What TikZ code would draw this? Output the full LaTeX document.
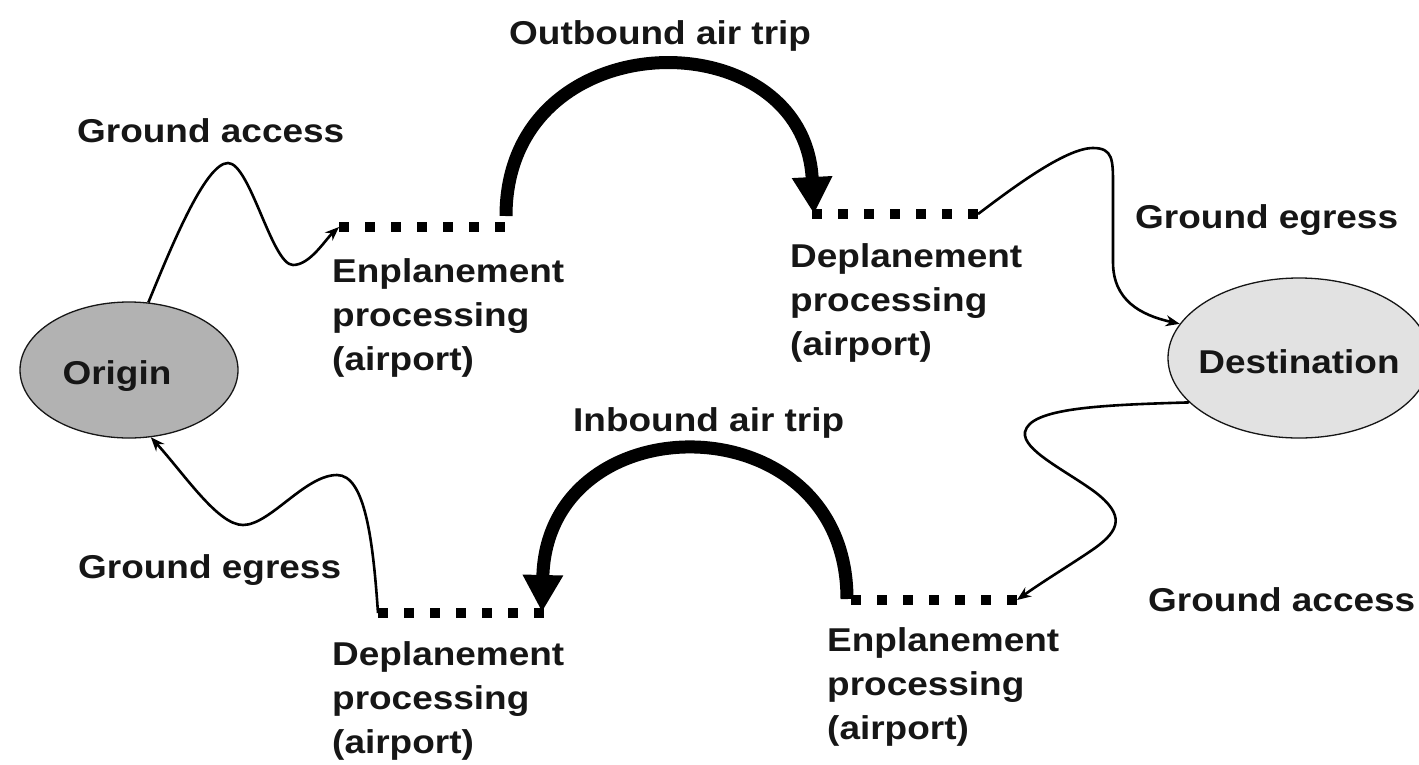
\documentclass[tikz,border=0pt]{standalone}
\usepackage{fontspec}
\usetikzlibrary{arrows.meta,shapes.geometric}
\newfontfamily\lblfont{Liberation Sans}[FakeStretch=1.12]
\definecolor{origingray}{RGB}{178,178,178}
\definecolor{destgray}{RGB}{226,226,226}
\definecolor{ink}{RGB}{22,22,22}

\tikzset{
  lbl/.style={font=\lblfont\bfseries\fontsize{33}{44}\selectfont, inner sep=0pt, text=ink, align=left},
  place/.style={ellipse, draw=ink, line width=1.3pt, inner sep=0pt},
  gate/.style={line width=10pt, dash pattern=on 10pt off 16pt, draw=black},
  flight/.style={line width=13pt, draw=black, -{Triangle[length=37pt,width=38pt]}},
  road/.style={line width=2.6pt, draw=black, -{Stealth[length=14pt,width=11pt]}},
}

\begin{document}
\begin{tikzpicture}[x=1pt,y=-1pt]
  % page frame
  \fill[white] (0,0) rectangle (1419,764);
  \useasboundingbox (0,0) rectangle (1419,764);

  % origin and destination
  \node[place, fill=origingray, minimum width=218pt, minimum height=136pt] (org) at (129,370) {};
  \node[lbl, anchor=base] (orgtxt) at (117,384) {Origin};
  \node[place, fill=destgray, minimum width=262pt, minimum height=160pt] (dst) at (1299,358) {};
  \node[lbl, anchor=base] (dsttxt) at (1299,373) {Destination};

  % airport processing stretches (ends of each dotted bar)
  \coordinate (g1a) at (339,227);  \coordinate (g1b) at (505,227);
  \coordinate (g2a) at (812,214);  \coordinate (g2b) at (978,214);
  \coordinate (g3a) at (378,613);  \coordinate (g3b) at (544,613);
  \coordinate (g4a) at (851,600);  \coordinate (g4b) at (1017,600);
  \draw[gate] (g1a) -- (g1b);
  \draw[gate] (g2a) -- (g2b);
  \draw[gate] (g3a) -- (g3b);
  \draw[gate] (g4a) -- (g4b);

  % feet of the two flight arcs
  \coordinate (obA) at (506,216);
  \coordinate (obB) at (814,214);
  \coordinate (ibA) at (847,599);
  \coordinate (ibB) at (542,612);

  % air trips
  \draw[flight] (obA) .. controls (506,19) and (804,17) .. (obB);
  \draw[flight] (ibA) .. controls (847,400) and (547,400) .. (ibB);

  % ground legs
  \draw[road] (org.74) .. controls (170,250) and (205,163) .. (228,163)
              .. controls (250,163) and (272,265) .. (293,265)
              .. controls (310,265) and (325,240) .. (g1a);
  \draw[road] (g2b) .. controls (1010,190) and (1065,148) .. (1093,148)
              .. controls (1113,148) and (1113,160) .. (1113,185)
              -- (1113,262)
              .. controls (1113,300) and (1140,315) .. (dst.164);
  \draw[road] (dst.202) .. controls (1100,405) and (1030,408) .. (1025,432)
              .. controls (1022,450) and (1065,470) .. (1095,492)
              .. controls (1125,515) and (1120,530) .. (1095,548)
              .. controls (1075,562) and (1045,580) .. (g4b);
  \draw[road] (g3a) .. controls (373,540) and (365,475) .. (337,475)
              .. controls (305,475) and (270,525) .. (243,525)
              .. controls (218,525) and (185,475) .. (org.288);

  % labels
  \node[lbl, anchor=base west] (lga1) at (77,142) {Ground access};
  \node[lbl, anchor=base west] (lout) at (509,44) {Outbound air trip};
  \node[lbl, anchor=north west] (lenp1) at (332,258) {Enplanement\\processing\\(airport)};
  \node[lbl, anchor=north west] (ldep1) at (790,243) {Deplanement\\processing\\(airport)};
  \node[lbl, anchor=base west] (lge1) at (1135,228) {Ground egress};
  \node[lbl, anchor=base west] (lin) at (573,431) {Inbound air trip};
  \node[lbl, anchor=base west] (lge2) at (78,578) {Ground egress};
  \node[lbl, anchor=base west] (lga2) at (1148,611) {Ground access};
  \node[lbl, anchor=north west] (lenp2) at (827,627) {Enplanement\\processing\\(airport)};
  \node[lbl, anchor=north west] (ldep2) at (332,641) {Deplanement\\processing\\(airport)};
\end{tikzpicture}
\end{document}
